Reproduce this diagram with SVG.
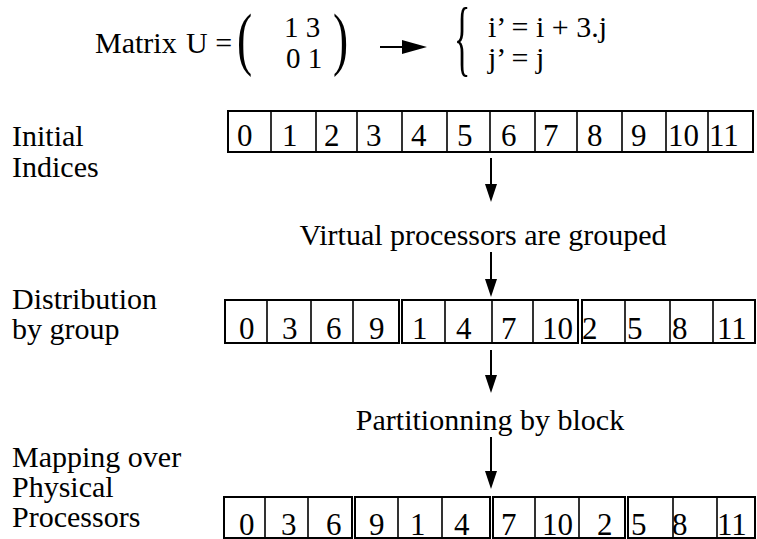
<svg xmlns="http://www.w3.org/2000/svg" width="757" height="539" viewBox="0 0 757 539">
<style>
text{font-family:"Liberation Serif","Times New Roman",serif;fill:#000}
.t{font-size:30px}
.d{font-size:31px}
.box{fill:#fff;stroke:#000;stroke-width:2}
.div{stroke:#000;stroke-width:1.6}
.conn{stroke:#000;stroke-width:2;fill:none}
</style>
<defs>
<marker id="head" markerUnits="userSpaceOnUse" markerWidth="18" markerHeight="14" refX="10" refY="6" orient="auto">
<path d="M0,0 L18,6 L0,12 z" fill="#000"/>
</marker>
<marker id="bighead" markerUnits="userSpaceOnUse" markerWidth="26" markerHeight="16" refX="8" refY="7" orient="auto">
<path d="M0,0 L25,7 L0,14 z" fill="#000"/>
</marker>
</defs>
<rect width="757" height="539" fill="#fff"/>

<g id="title">
<text class="t" x="95" y="53">Matrix</text>
<text class="t" x="186" y="53">U =</text>
<text font-size="70" transform="translate(237,62) scale(0.65,1)">(</text>
<text font-size="29" x="284" y="37">1 3</text>
<text font-size="29" x="286" y="68">0 1</text>
<text font-size="70" transform="translate(333,62) scale(0.65,1)">)</text>
<text font-size="85" transform="translate(454,66) scale(0.4,1)">{</text>
<text font-size="30" x="488" y="37">i’ = i + 3.j</text>
<text font-size="30" x="488" y="68">j’ = j</text>
</g>

<g id="labels">
<text class="t" x="12" y="146">Initial</text>
<text class="t" x="12" y="177">Indices</text>
<text class="t" x="12" y="309">Distribution</text>
<text class="t" x="12" y="339">by group</text>
<text class="t" x="12" y="467">Mapping over</text>
<text class="t" x="12" y="497">Physical</text>
<text class="t" x="12" y="527">Processors</text>
<text class="t" x="483" y="245" text-anchor="middle">Virtual processors are grouped</text>
<text class="t" x="490" y="430" text-anchor="middle">Partitionning by block</text>
</g>

<g id="row-initial">
<rect class="box" x="228" y="111" width="525" height="41"/>
<path class="div" d="M271,111V152M316,111V152M357,111V152M402,111V152M447,111V152M490,111V152M535,111V152M577,111V152M622,111V152M666,111V152M708,111V152"/>
<g class="d">
<text x="237" y="146">0</text><text x="282" y="146">1</text><text x="324" y="146">2</text><text x="366" y="146">3</text>
<text x="411" y="146">4</text><text x="457" y="146">5</text><text x="501" y="146">6</text><text x="543" y="146">7</text>
<text x="587" y="146">8</text><text x="631" y="146">9</text><text x="668" y="146">10</text><text x="709" y="146">11</text>
</g>
</g>

<g id="row-group">
<rect class="box" x="225" y="300" width="174" height="43"/>
<rect class="box" x="402" y="300" width="176" height="43"/>
<rect class="box" x="582" y="300" width="173" height="43"/>
<path class="div" d="M267,300V343M311,300V343M353,300V343M445,300V343M492,300V343M533,300V343M625,300V343M670,300V343M713,300V343"/>
<g class="d">
<text x="239" y="339">0</text><text x="282" y="339">3</text><text x="326" y="339">6</text><text x="369" y="339">9</text>
<text x="412" y="339">1</text><text x="456" y="339">4</text><text x="501" y="339">7</text><text x="542" y="339">10</text>
<text x="582" y="339">2</text><text x="627" y="339">5</text><text x="672" y="339">8</text><text x="717" y="339">11</text>
</g>
</g>

<g id="row-physical">
<rect class="box" x="224" y="497" width="128" height="41"/>
<rect class="box" x="355" y="497" width="135" height="41"/>
<rect class="box" x="493" y="497" width="132" height="41"/>
<rect class="box" x="628" y="497" width="127" height="41"/>
<path class="div" d="M265,497V538M308,497V538M398,497V538M442,497V538M535,497V538M579,497V538M673,497V538M717,497V538"/>
<g class="d">
<text x="239" y="535">0</text><text x="281" y="535">3</text><text x="326" y="535">6</text><text x="369" y="535">9</text>
<text x="410" y="535">1</text><text x="454" y="535">4</text><text x="501" y="535">7</text><text x="542" y="535">10</text>
<text x="597" y="535">2</text><text x="631" y="535">5</text><text x="672" y="535">8</text><text x="717" y="535">11</text>
</g>
</g>

<g id="connectors">
<line class="conn" x1="380" y1="47" x2="410" y2="47" stroke-width="3" marker-end="url(#bighead)"/>
<line class="conn" x1="491" y1="158" x2="491" y2="194" marker-end="url(#head)"/>
<line class="conn" x1="491" y1="252" x2="491" y2="289" marker-end="url(#head)"/>
<line class="conn" x1="491" y1="350" x2="491" y2="385" marker-end="url(#head)"/>
<line class="conn" x1="491" y1="437" x2="491" y2="481" marker-end="url(#head)"/>
</g>
</svg>
